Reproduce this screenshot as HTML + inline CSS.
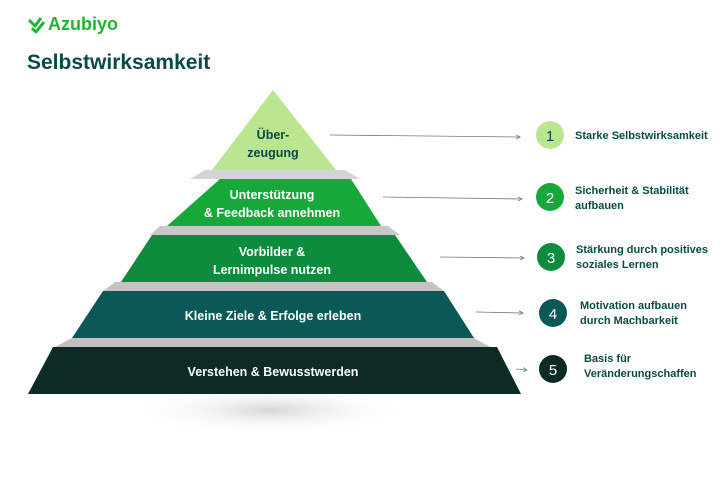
<!DOCTYPE html>
<html><head><style>
body{margin:0;background:#fff;width:721px;height:480px;overflow:hidden;font-family:"Liberation Sans",sans-serif}
</style></head><body>
<svg width="721" height="480" viewBox="0 0 721 480" xmlns="http://www.w3.org/2000/svg" font-family="Liberation Sans, sans-serif">
<defs>
<radialGradient id="sh" cx="0.5" cy="0.5" r="0.5"><stop offset="0" stop-color="#ccc" stop-opacity="0.8"/><stop offset="1" stop-color="#fff" stop-opacity="0"/></radialGradient>
<marker id="ar" markerWidth="6" markerHeight="6" refX="5" refY="3" orient="auto"><path d="M0,0.5 L5,3 L0,5.5" fill="none" stroke="#6a7a88" stroke-width="1"/></marker>
</defs>
<g transform="translate(27,16)"><path d="M2,4 L8,10 L14,2 M5,12 L9,16 L17,6" fill="none" stroke="#1fb532" stroke-width="3" stroke-linejoin="round"/></g>
<text x="48" y="30" font-size="18" font-weight="bold" fill="#1fb532">Azubiyo</text>
<text x="27" y="69" font-size="21" font-weight="bold" fill="#0b4a44">Selbstwirksamkeit</text>
<ellipse cx="270" cy="410" rx="140" ry="25" fill="url(#sh)"/>
<polygon points="205,170 345,170 360,179 190,179" fill="#d4d4d4"/>
<polygon points="160,226 388,226 400,235 150,235" fill="#c8c8c8"/>
<polygon points="115,282 432,282 444,291 103,291" fill="#c4c4c4"/>
<polygon points="72,338 474,338 490,347 55,347" fill="#c0c0c0"/>
<polygon points="273,90 336,170 212,170" fill="#b9e68e"/>
<polygon points="220,179 351,179 381,226 167,226" fill="#17a83a"/>
<polygon points="152,235 395,235 427,282 121,282" fill="#0d8c3d"/>
<polygon points="103,291 444,291 474,338 72,338" fill="#0b5858"/>
<polygon points="53,347 497,347 521,394 28,394" fill="#0d2a24"/>
<g font-size="12.5" font-weight="bold" text-anchor="middle">
<text x="273" y="139" fill="#0b4a44">Über-</text>
<text x="273" y="157" fill="#0b4a44">zeugung</text>
<text x="272" y="199" fill="#fff">Unterstützung</text>
<text x="272" y="217" fill="#fff">&amp; Feedback annehmen</text>
<text x="272" y="256" fill="#fff">Vorbilder &amp;</text>
<text x="272" y="274" fill="#fff">Lernimpulse nutzen</text>
<text x="273" y="320" fill="#fff">Kleine Ziele &amp; Erfolge erleben</text>
<text x="273" y="376" fill="#fff">Verstehen &amp; Bewusstwerden</text>
</g>
<g stroke="#6a7a88" stroke-width="0.8" marker-end="url(#ar)">
<line x1="330" y1="135" x2="520" y2="137"/>
<line x1="383" y1="197" x2="522" y2="199"/>
<line x1="440" y1="257" x2="524" y2="258"/>
<line x1="476" y1="312" x2="523" y2="313"/>
<line x1="516" y1="369" x2="527" y2="370"/>
</g>
<circle cx="550" cy="135" r="14" fill="#b9e68e"/>
<circle cx="550" cy="197" r="14" fill="#17a83a"/>
<circle cx="551" cy="257" r="14" fill="#0d8c3d"/>
<circle cx="553" cy="313" r="14" fill="#0b5858"/>
<circle cx="553" cy="369" r="14" fill="#0d2a24"/>
<g font-size="15" text-anchor="middle">
<text x="550" y="141" fill="#0b4a44">1</text>
<text x="550" y="203" fill="#fff">2</text>
<text x="551" y="263" fill="#fff">3</text>
<text x="553" y="319" fill="#fff">4</text>
<text x="553" y="375" fill="#fff">5</text>
</g>
<g font-size="11" font-weight="bold" fill="#0b4a44">
<text x="575" y="139">Starke Selbstwirksamkeit</text>
<text x="575" y="194">Sicherheit &amp; Stabilität</text>
<text x="575" y="209">aufbauen</text>
<text x="576" y="253">Stärkung durch positives</text>
<text x="576" y="268">soziales Lernen</text>
<text x="580" y="309">Motivation aufbauen</text>
<text x="580" y="324">durch Machbarkeit</text>
<text x="584" y="362">Basis für</text>
<text x="584" y="377">Veränderungschaffen</text>
</g>
</svg>
</body></html>
